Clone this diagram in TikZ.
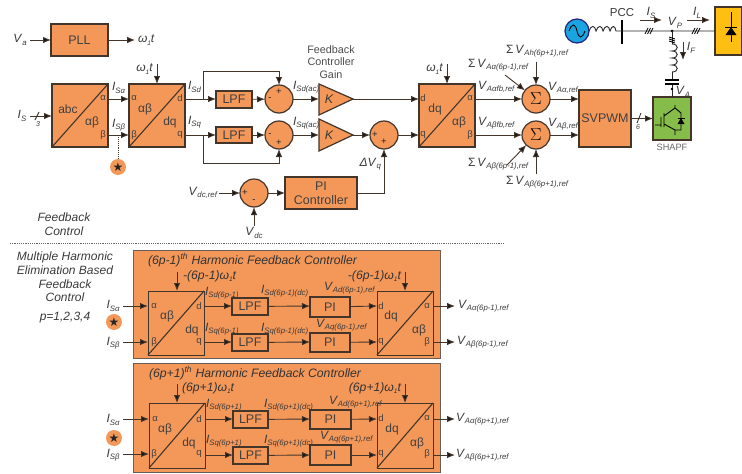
\documentclass[tikz,border=0pt]{standalone}
\usepackage{fontspec}
\setmainfont{Liberation Sans}
\newfontfamily\djvfont{DejaVu Sans}
\usetikzlibrary{arrows.meta,calc}
\definecolor{org}{HTML}{F4985A}
\definecolor{edge}{HTML}{43352A}
\definecolor{txt}{HTML}{3A3A3A}
\definecolor{grn}{HTML}{86BC4A}
\definecolor{yel}{HTML}{FFBE12}
\definecolor{blu}{HTML}{1AA5E0}
\newcounter{lb}
\newcommand\Sb[1]{\raisebox{-0.4ex}{\fontsize{7.8}{7.8}\selectfont\itshape #1}}
\newcommand\Sc[1]{\raisebox{-0.4ex}{\fontsize{6.5}{6.5}\selectfont\itshape #1}}
\newcommand\I[1]{\textit{I}\Sb{#1}}
\newcommand\V[1]{\textit{V}\Sb{#1}}
\newcommand\W{\textit{ω}\Sc{1}\textit{t}}
\newcommand\lab[4][]{\stepcounter{lb}\node[lbl,#1] (t\thelb) at (#2,#3) {#4};}
\newcommand\bx[7]{\node[#6,minimum width={(#4-#2)*1pt},minimum height={(#5-#3)*1pt}] (#1) at ({(#2+#4)/2},{(#3+#5)/2}) {#7};}
\newcommand\tf[1]{\draw[wire,line width=1.1pt] (#1.south west) -- (#1.north east);}
\newcommand\stardot[3]{\node[stard] (#1) at (#2,#3) {\djvfont\fontsize{12}{12}\selectfont ★};}
\tikzset{
 wire/.style={draw=edge,line width=.9pt},
 arr/.style={wire,-{Latex[length=8pt,width=6.5pt,fill=black!90]}},
 box/.style={draw=edge,line width=1.2pt,fill=org,inner sep=0pt,outer sep=0pt,text=black!75,align=center,font=\fontsize{12.5}{14}\selectfont},
 panel/.style={draw=edge!80,line width=1pt,fill=org,inner sep=0pt,outer sep=0pt},
 sumc/.style={circle,draw=edge,line width=1.2pt,fill=org,minimum size=28pt,inner sep=0pt,outer sep=0pt,font=\fontsize{19}{19}\selectfont},
 lbl/.style={inner sep=0pt,outer sep=0pt,text=txt,font=\fontsize{12}{14}\selectfont},
 port/.style={lbl,text=black!75,font=\fontsize{9.5}{10}\selectfont},
 pair/.style={lbl,text=black!75,font=\fontsize{12}{14}\selectfont},
 sgn/.style={lbl,text=black!85,font=\fontsize{9.5}{9}\selectfont},
 note/.style={lbl,align=center,font=\fontsize{12}{13.7}\selectfont\itshape},
 head/.style={lbl,text=black!80,font=\fontsize{12.2}{14}\selectfont\itshape},
 stard/.style={circle,fill=org,minimum size=16pt,inner sep=0pt,outer sep=0pt,text=black!85},
 gain/.style={draw=edge,line width=1.2pt,fill=org},
}
\begin{document}
\begin{tikzpicture}[x=1pt,y=-1pt]
\useasboundingbox (0,0) rectangle (742,474);
% ---- PLL
\bx{pll}{51}{24}{108}{56}{box}{PLL}
\lab{20}{40}{\V{a}}
\coordinate (pllIn) at (30,40); \coordinate (pllOut) at (135,40);
\draw[arr] (pllIn) -- (pll);
\draw[arr] (pll) -- (pllOut);
\lab[anchor=west]{138}{40}{\W}
% ---- transforms
\bx{abc}{52}{84}{108}{147}{box}{}\tf{abc}
\bx{ab}{129}{84}{185}{147}{box}{}\tf{ab}
\bx{dq}{419}{84}{475}{147}{box}{}\tf{dq}
\lab[pair]{68}{109}{abc}\lab[pair]{92}{122}{αβ}\lab[port]{103}{98}{α}\lab[port]{103}{135}{β}
\lab[port]{134}{98}{α}\lab[pair]{145}{109}{αβ}\lab[pair]{170}{122}{dq}\lab[port]{180}{98}{d}\lab[port]{134}{135}{β}\lab[port]{180}{135}{q}
\lab[port]{423}{98}{d}\lab[pair]{435}{109}{dq}\lab[pair]{459}{122}{αβ}\lab[port]{470}{98}{α}\lab[port]{423}{135}{q}\lab[port]{470}{135}{β}
\coordinate (isIn) at (30,116); \coordinate (isOut) at (52,116);
\draw[arr] (isIn) -- (isOut);
\coordinate (sl1a) at (35,120); \coordinate (sl1b) at (39,112); \draw[wire] (sl1a) -- (sl1b);
\lab{22}{116}{\I{S}}
\lab[font=\fontsize{7}{7}\selectfont\itshape]{38}{124}{3}
\coordinate (a1) at (108,99); \coordinate (a2) at (129,99); \coordinate (b1) at (108,135); \coordinate (b2) at (129,135);
\draw[arr] (a1) -- (a2); \draw[arr] (b1) -- (b2);
\lab[anchor=west]{112}{88}{\I{Sα}}\lab[anchor=west]{112}{125}{\I{Sβ}}
\stardot{st0}{118}{167}
\coordinate (stb) at (118,137);
\draw[wire,densely dotted] (stb) -- (st0);
\coordinate (w1) at (157,64); \coordinate (w1e) at (157,84);
\draw[arr] (w1) -- (w1e);
\lab[anchor=east]{153}{69}{\W}
\coordinate (w2) at (447,64); \coordinate (w2e) at (447,84);
\draw[arr] (w2) -- (w2e);
\lab[anchor=east]{443}{69}{\W}
% ---- LPF row
\bx{lpfa}{216}{91}{252}{108}{box}{LPF}
\bx{lpfb}{216}{127}{252}{143}{box}{LPF}
\node[sumc] (sa) at (279,99) {};
\node[sumc] (sb) at (279,135) {};
\coordinate (da) at (185,99); \coordinate (db) at (185,135);
\coordinate (ja) at (203,99); \coordinate (jb) at (203,135);
\draw[arr] (da) -- (lpfa.west|-da);
\draw[arr] (db) -- (lpfb.west|-db);
\draw[arr] (lpfa) -- (sa);
\draw[arr] (lpfb) -- (sb);
\coordinate (fa) at (203,71); \coordinate (fb) at (203,163);
\draw[arr] (ja) -- (fa) -| (sa.north);
\draw[arr] (jb) -- (fb) -| (sb.south);
\lab[anchor=west]{188}{87}{\I{Sd}}\lab[anchor=west]{188}{122}{\I{Sq}}
\lab[sgn]{270}{99}{-}\lab[sgn]{279}{92}{+}\lab[sgn]{270}{135}{-}\lab[sgn]{279}{143}{+}
\lab[anchor=west]{293}{87}{\I{Sd(ac)}}\lab[anchor=west]{293}{123}{\I{Sq(ac)}}
% ---- gains
\path[gain] (319,84) coordinate (ka1) -- (353,99) coordinate (kaT) -- (319,115) coordinate (ka2) -- cycle;
\path[gain] (319,119) coordinate (kb1) -- (353,135) coordinate (kbT) -- (319,151) coordinate (kb2) -- cycle;
\coordinate (kaI) at (319,99); \coordinate (kbI) at (319,135);
\lab[font=\fontsize{12.5}{12}\selectfont\itshape]{329}{99}{K}\lab[font=\fontsize{12.5}{12}\selectfont\itshape]{329}{135}{K}
\draw[arr] (sa) -- (kaI); \draw[arr] (sb) -- (kbI);
\coordinate (dqd) at (419,99); \coordinate (dqq) at (419,135);
\draw[arr] (kaT) -- (dqd);
\node[sumc] (sq) at (384,135) {};
\draw[arr] (kbT) -- (sq);
\draw[arr] (sq) -- (dqq);
\lab[sgn]{375}{135}{+}\lab[sgn]{384}{142}{+}
\lab[note,text=black!70,font=\fontsize{10.8}{12.2}\selectfont]{331}{62}{Feedback\\Controller\\Gain}
% ---- DC loop
\node[sumc] (sd) at (254,193) {};
\bx{pi}{285}{177}{357}{209}{box}{PI\\Controller}
\coordinate (vr) at (219,193); \coordinate (vd) at (254,226);
\draw[arr] (vr) -- (sd);
\draw[arr] (vd) -- (sd);
\draw[arr] (sd) -- (pi);
\draw[arr] (pi) -| (sq.south);
\lab[anchor=east]{217}{193}{\V{dc,ref}}
\lab{254}{233}{\V{dc}}
\lab[sgn]{245}{193}{+}\lab[sgn]{254}{201}{-}
\lab[anchor=east]{381}{164}{\textit{ΔV}\Sb{q}}
% ---- summers right
\node[sumc] (sal) at (536,99) {$\Sigma$};
\node[sumc] (sbe) at (536,135) {$\Sigma$};
\coordinate (dqa) at (475,99); \coordinate (dqb) at (475,135);
\draw[arr] (dqa) -- (sal); \draw[arr] (dqb) -- (sbe);
\coordinate (tA) at (536,62); \coordinate (dA) at (505,75);
\coordinate (tB) at (536,174); \coordinate (dB) at (507,165);
\draw[arr] (tA) -- (sal); \draw[arr] (dA) -- (sal);
\draw[arr] (tB) -- (sbe); \draw[arr] (dB) -- (sbe);
\bx{svp}{579}{90}{631}{147}{box}{SVPWM}
\coordinate (spa) at (579,99); \coordinate (spb) at (579,135);
\draw[arr] (sal) -- (spa); \draw[arr] (sbe) -- (spb);
\lab[anchor=west]{478}{87}{\V{Aαfb,ref}}\lab[anchor=west]{478}{123}{\V{Aβfb,ref}}
\lab[anchor=west]{548}{88}{\V{Aα,ref}}\lab[anchor=west]{548}{124}{\V{Aβ,ref}}
\lab[anchor=west]{506}{51}{Σ\,\V{Ah(6p+1),ref}}
\lab[anchor=west]{468}{65}{Σ\,\V{Aα(6p-1),ref}}
\lab[anchor=west]{468}{164}{Σ\,\V{Aβ(6p-1),ref}}
\lab[anchor=west]{506}{182}{Σ\,\V{Aβ(6p+1),ref}}
% ---- power stage
\bx{shapf}{653}{97}{691}{140}{box,fill=grn}{}
\draw[arr] (svp.east|-shapf) -- (shapf);
\coordinate (sl2a) at (637,123); \coordinate (sl2b) at (641,113); \draw[wire] (sl2a) -- (sl2b);
\lab[font=\fontsize{7}{7}\selectfont\itshape]{638}{127}{6}
\lab[font=\fontsize{9.2}{9}\selectfont,text=black!60]{672}{147}{SHAPF}
\draw[black,line width=.9pt] (655,125) -- (661,125) (661,117) -- (661,127) (664,113) -- (664,127)
 (664,116) -- (675,108) -- (675,105) (675,108) -- (681,113) -- (681,130) -- (675,130) (664,124) -- (675,130) -- (675,135);
\fill[black] (681,118) -- (684.5,124) -- (677.5,124) -- cycle;
\draw[black,line width=.9pt] (677.5,118) -- (684.5,118);
\bx{load}{715}{7}{742}{55}{box,fill=yel}{}
\node[circle,draw=edge!60!blue,line width=1.2pt,fill=blu,minimum size=24pt,inner sep=0pt,outer sep=0pt] (src) at (577,31) {};
\draw[black,line width=.9pt] (569,31) .. controls (572,23) and (575,23) .. (577,31) .. controls (579,39) and (582,39) .. (585,31);
\coordinate (c0) at (589,31); \coordinate (c1) at (616,31); \coordinate (pcc) at (622,31);
\coordinate (pu) at (622,20); \coordinate (pd) at (622,44); \coordinate (vp) at (672,31);
\draw[black,line width=2.4pt] (pu) -- (pd);
\draw[wire,black!85] (c0) .. controls (591,25) and (595,25) .. (596,31) .. controls (598,25) and (602,25) .. (603,31) .. controls (605,25) and (609,25) .. (610,31) .. controls (612,25) and (615,25) .. (616,31) -- (pcc) -- (vp) -- (load.west|-vp);
\foreach \hx in {649,696}{\foreach \d in {-2.5,0,2.5}{\draw[black,line width=.8pt] ({\hx+\d-1.5},34) -- ({\hx+\d+1.5},28);}}
\fill[black] (vp) circle (1.5);
\coordinate (fl0) at (672,44); \coordinate (fl1) at (672,72); \coordinate (cp1) at (672,80); \coordinate (cp2) at (672,84);
\draw[wire,black!85] (vp) -- (fl0);
\draw[black,line width=.9pt] (669,39) -- (675,41) (669,41) -- (675,43) (669,37) -- (675,39);
\draw[wire,black!85] (672,44) .. controls (679,44) and (679,51) .. (672,51) .. controls (679,51) and (679,58) .. (672,58) .. controls (679,58) and (679,65) .. (672,65) .. controls (679,65) and (679,72) .. (672,72);
\draw[wire,black!85] (fl1) -- (cp1) (cp2) -- (shapf.north-|cp2);
\draw[black,line width=1.2pt] (665,80) -- (679,80) (665,84) -- (679,84);
\fill[black] (672,89) circle (1.3);
\coordinate (isA) at (640,20); \coordinate (isB) at (662,20);
\coordinate (ilA) at (687,20); \coordinate (ilB) at (710,20);
\coordinate (ifA) at (683,42); \coordinate (ifB) at (683,60);
\draw[arr] (isA) -- (isB); \draw[arr] (ilA) -- (ilB); \draw[arr] (ifA) -- (ifB);
\lab[font=\fontsize{11.5}{12}\selectfont]{622}{13}{PCC}
\lab{651}{13}{\I{S}}\lab{697}{13}{\I{L}}\lab{691}{48}{\I{F}}\lab{675}{23}{\V{P}}\lab{683}{92}{\V{A}}
% diode
\draw[black,line width=.9pt] (731,12) -- (731,42) (725,27) -- (737,27);
\fill[black] (731,27) -- (736.5,35) -- (725.5,35) -- cycle;
% ---- left notes
\lab[note]{64}{224}{Feedback\\Control}
\lab[note]{65}{277}{Multiple Harmonic\\Elimination Based\\Feedback\\Control}
\lab[note]{65}{318}{p=1,2,3,4}
\coordinate (dl) at (10,243); \coordinate (dr) at (505,243);
\draw[black!60,line width=.9pt,dash pattern=on 1.2pt off 1pt] (dl) -- (dr);
% ---- harmonic panel 1
\bx{p1}{133}{250}{440}{358}{panel}{}
\lab[head,anchor=west]{148}{260}{(6p-1)\textsuperscript{th} Harmonic Feedback Controller}
\bx{xa}{148}{291}{204}{355}{box,fill=org,line width=1pt}{}\tf{xa}
\bx{ya}{377}{291}{433}{355}{box,fill=org,line width=1pt}{}\tf{ya}
\bx{lpa}{232}{298}{268}{315}{box}{LPF}
\bx{lpb}{232}{334}{268}{351}{box}{LPF}
\bx{pia}{310}{297}{350}{317}{box}{PI}
\bx{pib}{310}{333}{350}{352}{box}{PI}
\lab[pair]{167}{316}{αβ}\lab[pair]{192}{330}{dq}\lab[port]{154}{306}{α}\lab[port]{154}{342}{β}\lab[port]{199}{306}{d}\lab[port]{199}{342}{q}
\lab[pair]{391}{316}{dq}\lab[pair]{419}{330}{αβ}\lab[port]{381}{306}{d}\lab[port]{381}{342}{q}\lab[port]{427}{306}{α}\lab[port]{427}{342}{β}
\coordinate (i1a) at (123,306); \coordinate (i1ae) at (148,306); \coordinate (i1b) at (123,342); \coordinate (i1be) at (148,342);
\draw[arr] (i1a) -- (i1ae); \draw[arr] (i1b) -- (i1be);
\lab{113}{306}{\I{Sα}}\lab{113}{343}{\I{Sβ}}\stardot{st1}{114}{322}
\foreach \yy/\lp/\ppi in {306/lpa/pia,342/lpb/pib}{
 \draw[arr] (204,\yy) -- (\lp.west|-0,\yy);
 \draw[arr] (\lp) -- (\ppi.west|-0,\yy);
 \draw[arr] (\ppi) -- (377,\yy);
 \draw[arr] (433,\yy) -- (455,\yy);
}
\coordinate (w3) at (177,272); \coordinate (w3e) at (177,291); \coordinate (w4) at (405,272); \coordinate (w4e) at (405,291);
\draw[arr] (w3) -- (w3e); \draw[arr] (w4) -- (w4e);
\lab[head,anchor=west]{183}{276}{-(6p-1)\textit{ω}\Sc{1}\textit{t}}
\lab[head,anchor=east]{401}{276}{-(6p-1)\textit{ω}\Sc{1}\textit{t}}
\lab[anchor=west]{205}{293}{\textit{I}\Sb{Sd(6p-1)}}
\lab[anchor=west]{205}{329}{\textit{I}\Sb{Sq(6p-1)}}
\lab[anchor=west]{261}{291}{\textit{I}\Sb{Sd(6p-1)(dc)}}
\lab[anchor=west]{261}{329}{\textit{I}\Sb{Sq(6p-1)(dc)}}
\lab[anchor=west]{324}{288}{\V{Ad(6p-1),ref}}
\lab[anchor=west]{316}{325}{\V{Aq(6p-1),ref}}
\lab[anchor=west]{458}{306}{\V{Aα(6p-1),ref}}
\lab[anchor=west]{457}{342}{\V{Aβ(6p-1),ref}}
% ---- harmonic panel 2
\bx{p2}{133}{363}{440}{472}{panel}{}
\lab[head,anchor=west]{149}{373}{(6p+1)\textsuperscript{th} Harmonic Feedback Controller}
\bx{xb}{149}{403}{205}{468}{box,line width=1pt}{}\tf{xb}
\bx{yb}{377}{403}{433}{468}{box,line width=1pt}{}\tf{yb}
\bx{lpc}{233}{411}{268}{428}{box}{LPF}
\bx{lpd}{233}{447}{268}{464}{box}{LPF}
\bx{pic}{310}{410}{351}{429}{box}{PI}
\bx{pid}{310}{445}{351}{465}{box}{PI}
\lab[pair]{165}{429}{αβ}\lab[pair]{189}{443}{dq}\lab[port]{155}{419}{α}\lab[port]{154}{454}{β}\lab[port]{199}{419}{d}\lab[port]{199}{454}{q}
\lab[pair]{392}{429}{dq}\lab[pair]{417}{443}{αβ}\lab[port]{381}{418}{d}\lab[port]{381}{454}{q}\lab[port]{427}{418}{α}\lab[port]{427}{454}{β}
\coordinate (i2a) at (123,419); \coordinate (i2ae) at (149,419); \coordinate (i2b) at (123,454); \coordinate (i2be) at (149,454);
\draw[arr] (i2a) -- (i2ae); \draw[arr] (i2b) -- (i2be);
\lab{113}{420}{\I{Sα}}\lab{113}{455}{\I{Sβ}}\stardot{st2}{114}{438}
\foreach \yy/\lp/\ppi in {419/lpc/pic,455/lpd/pid}{
 \draw[arr] (205,\yy) -- (\lp.west|-0,\yy);
 \draw[arr] (\lp) -- (\ppi.west|-0,\yy);
 \draw[arr] (\ppi) -- (377,\yy);
 \draw[arr] (433,\yy) -- (455,\yy);
}
\coordinate (w5) at (177,384); \coordinate (w5e) at (177,403); \coordinate (w6) at (405,384); \coordinate (w6e) at (405,403);
\draw[arr] (w5) -- (w5e); \draw[arr] (w6) -- (w6e);
\lab[head,anchor=west]{182}{388}{(6p+1)\textit{ω}\Sc{1}\textit{t}}
\lab[head,anchor=east]{401}{388}{(6p+1)\textit{ω}\Sc{1}\textit{t}}
\lab[anchor=west]{206}{405}{\textit{I}\Sb{Sd(6p+1)}}
\lab[anchor=west]{206}{441}{\textit{I}\Sb{Sq(6p+1)}}
\lab[anchor=west]{264}{405}{\textit{I}\Sb{Sd(6p+1)(dc)}}
\lab[anchor=west]{264}{441}{\textit{I}\Sb{Sq(6p+1)(dc)}}
\lab[anchor=west]{329}{402}{\V{Ad(6p+1),ref}}
\lab[anchor=west]{320}{437}{\V{Aq(6p+1),ref}}
\lab[anchor=west]{456}{419}{\V{Aα(6p+1),ref}}
\lab[anchor=west]{456}{455}{\V{Aβ(6p+1),ref}}
\end{tikzpicture}
\end{document}
